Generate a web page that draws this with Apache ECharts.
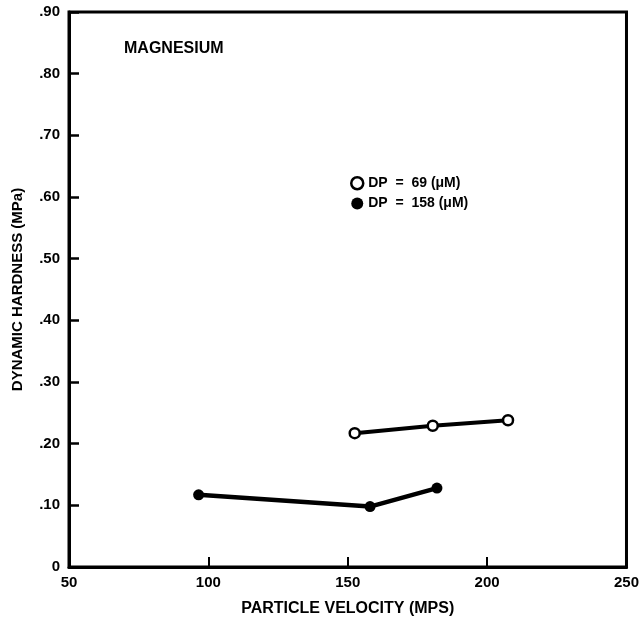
<!DOCTYPE html>
<html>
<head>
<meta charset="utf-8">
<script src="https://cdn.jsdelivr.net/npm/echarts@6/dist/echarts.min.js"></script>
<style>html,body{margin:0;padding:0;background:#fff}#c{width:642px;height:622px}</style>
</head>
<body>
<div id="c"></div>
<script>
// Data
var dp69X = [152.5, 180.5, 207.5];
var dp69Y = [0.217, 0.229, 0.238];
var dp158X = [96.5, 158, 182];
var dp158Y = [0.117, 0.098, 0.128];
var seriesNames = ['DP  =  69 (\u03bcM)', 'DP  =  158 (\u03bcM)'];
var xTicks = [50, 100, 150, 200, 250];
var yTicks = [0, 0.1, 0.2, 0.3, 0.4, 0.5, 0.6, 0.7, 0.8, 0.9];

var FONT = '"Liberation Sans", Arial, sans-serif';
function pairs(xs, ys){ return xs.map(function(x,i){return [x, ys[i]];}); }

var chart = echarts.init(document.getElementById('c'), null, {renderer:'canvas'});
chart.setOption({
  animation: false,
  backgroundColor: '#fff',
  title: {
    text: 'MAGNESIUM', left: 119, top: 36,
    textStyle: {fontFamily: FONT, fontWeight: 'bold', fontSize: 16, color: '#000'}
  },
  legend: {
    orient: 'vertical', left: 345, top: 171, itemGap: 6,
    itemWidth: 12, itemHeight: 12,
    textStyle: {fontFamily: FONT, fontWeight: 'bold', fontSize: 14, color: '#000'},
    data: [
      {name: seriesNames[0], icon: 'circle', itemStyle: {color: '#fff', borderColor: '#000', borderWidth: 2.5}},
      {name: seriesNames[1], icon: 'circle', itemStyle: {color: '#000', borderColor: '#000', borderWidth: 0}}
    ]
  },
  grid: {left: 69, right: 11, top: 12, bottom: 55, show: true, borderColor: '#000', borderWidth: 3},
  xAxis: {
    type: 'value', min: 50, max: 250, interval: 50,
    name: 'PARTICLE VELOCITY (MPS)', nameLocation: 'middle', nameGap: 34,
    nameTextStyle: {fontFamily: FONT, fontWeight: 'bold', fontSize: 16, color: '#000'},
    axisLine: {lineStyle: {color: '#000', width: 3}},
    axisTick: {inside: true, length: 10, lineStyle: {color: '#000', width: 2}},
    axisLabel: {fontFamily: FONT, fontWeight: 'bold', fontSize: 15, color: '#000', margin: 8,
      formatter: function(v){ return xTicks.indexOf(v) >= 0 ? String(v) : ''; }},
    splitLine: {show: false}
  },
  yAxis: {
    type: 'value', min: 0, max: 0.9, interval: 0.1,
    name: 'DYNAMIC HARDNESS (MPa)', nameLocation: 'middle', nameGap: 44, nameRotate: 90,
    nameTextStyle: {fontFamily: FONT, fontWeight: 'bold', fontSize: 15, color: '#000'},
    axisLine: {lineStyle: {color: '#000', width: 3}},
    axisTick: {inside: true, length: 10, lineStyle: {color: '#000', width: 2.5}},
    axisLabel: {fontFamily: FONT, fontWeight: 'bold', fontSize: 15, color: '#000', margin: 9,
      formatter: function(v){
        var t = yTicks.find(function(k){return Math.abs(k - v) < 1e-6;});
        if (t === undefined) return '';
        return t === 0 ? '0' : t.toFixed(2).replace(/^0/, '');
      }},
    splitLine: {show: false}
  },
  series: [
    {
      name: seriesNames[0], type: 'line', data: pairs(dp69X, dp69Y),
      symbol: 'circle', symbolSize: 10, showAllSymbol: true,
      lineStyle: {color: '#000', width: 4},
      itemStyle: {color: '#fff', borderColor: '#000', borderWidth: 2.5},
      z: 3
    },
    {
      name: seriesNames[1], type: 'line', data: pairs(dp158X, dp158Y),
      symbol: 'circle', symbolSize: 11, showAllSymbol: true,
      lineStyle: {color: '#000', width: 4.5},
      itemStyle: {color: '#000', borderColor: '#000', borderWidth: 0},
      z: 3
    }
  ]
});
</script>
</body>
</html>
